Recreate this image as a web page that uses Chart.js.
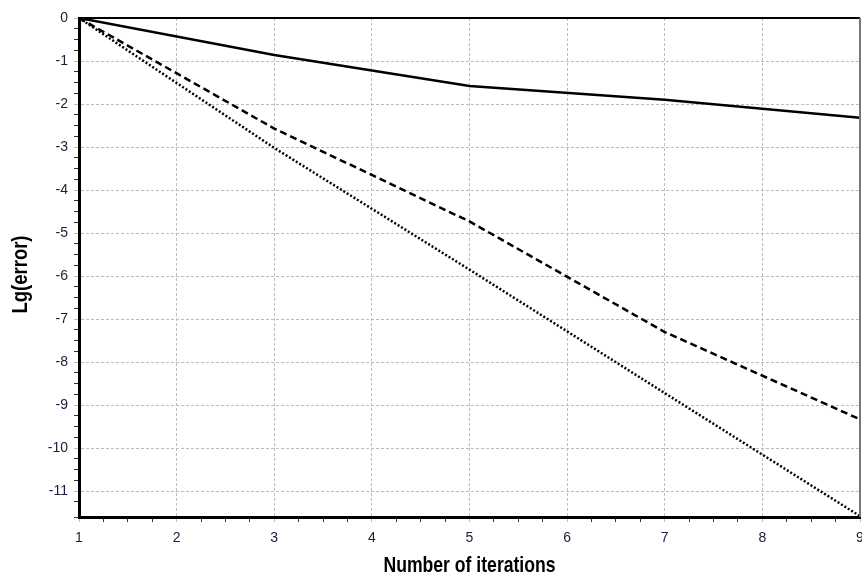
<!DOCTYPE html>
<html>
<head>
<meta charset="utf-8">
<script src="https://cdn.jsdelivr.net/npm/chart.js@4/dist/chart.umd.min.js"></script>
<style>
  html, body { margin: 0; padding: 0; background: #fff; }
  #wrap { width: 862px; height: 581px; }
</style>
</head>
<body>
<div id="wrap"><canvas id="chart"></canvas></div>
<script>
const iterations = [1, 3, 5, 7, 9];
const solidErr = [0, -0.86, -1.58, -1.9, -2.32];
const dashedErr = [0, -2.57, -4.73, -7.3, -9.33];
const dottedErr = [0, -3.02, -5.85, -8.72, -11.58];

const xTitle = 'Number of iterations';
const yTitle = 'Lg(error)';

const TITLE_FONT = 'bold 22px "Liberation Sans", Arial, sans-serif';
const TICK_FONT = {family: '"Liberation Sans", Arial, sans-serif', size: 14};

function isMajor(value) {
  return Math.abs(value - Math.round(value)) < 1e-6;
}

function points(ys) {
  return iterations.map((x, i) => ({x, y: ys[i]}));
}

// frame lines on top / right, and the condensed axis titles
const frame = {
  id: 'frame',
  afterDraw(chart) {
    const {ctx, chartArea: a} = chart;
    ctx.save();
    ctx.strokeStyle = '#000';
    ctx.lineWidth = 2;
    ctx.beginPath();
    ctx.moveTo(a.left, a.top);
    ctx.lineTo(a.right, a.top);
    ctx.stroke();
    ctx.strokeStyle = '#777';
    ctx.beginPath();
    ctx.moveTo(a.right, a.top);
    ctx.lineTo(a.right, a.bottom);
    ctx.stroke();

    ctx.fillStyle = '#000';
    ctx.font = TITLE_FONT;
    ctx.textAlign = 'center';
    ctx.textBaseline = 'middle';

    ctx.save();
    ctx.translate((a.left + a.right) / 2, chart.height - 15);
    ctx.scale(0.8, 1);
    ctx.fillText(xTitle, 0, 0);
    ctx.restore();

    ctx.save();
    ctx.translate(21, (a.top + a.bottom) / 2 + 7);
    ctx.rotate(-Math.PI / 2);
    ctx.scale(0.84, 1);
    ctx.fillText(yTitle, 0, 0);
    ctx.restore();

    ctx.restore();
  },
};

const gridOpts = {
  color: (c) => isMajor(c.tick.value) ? '#bdbdbd' : 'rgba(0,0,0,0)',
  tickColor: (c) => isMajor(c.tick.value) ? '#bdbdbd' : '#333',
  lineWidth: 1,
  tickLength: 5,
};

new Chart(document.getElementById('chart'), {
  type: 'line',
  data: {
    datasets: [
      {data: points(solidErr), borderColor: '#000', borderWidth: 2.5},
      {data: points(dashedErr), borderColor: '#000', borderWidth: 2.5, borderDash: [7, 4]},
      {data: points(dottedErr), borderColor: '#000', borderWidth: 2.5, borderDash: [2, 2]},
    ],
  },
  options: {
    responsive: true,
    maintainAspectRatio: false,
    animation: false,
    layout: {padding: {top: 18, right: 2, bottom: 0, left: 0}},
    elements: {point: {radius: 0}, line: {tension: 0}},
    plugins: {legend: {display: false}, tooltip: {enabled: false}},
    scales: {
      x: {
        type: 'linear',
        min: 1,
        max: 9,
        grid: gridOpts,
        border: {display: true, color: '#000', width: 3, dash: [3, 2]},
        ticks: {
          stepSize: 0.25,
          autoSkip: false,
          maxRotation: 0,
          padding: 8,
          color: '#1c1c3c',
          font: TICK_FONT,
          callback: (v) => isMajor(v) ? String(Math.round(v)) : '',
        },
        afterFit: (scale) => {
          scale.height = 64;
          scale.paddingLeft = 0;
          scale.paddingRight = 0;
        },
      },
      y: {
        type: 'linear',
        min: -11.6,
        max: 0,
        grid: gridOpts,
        border: {display: true, color: '#000', width: 3, dash: [3, 2]},
        ticks: {
          stepSize: 0.25,
          autoSkip: false,
          padding: 6,
          color: '#1c1c3c',
          font: TICK_FONT,
          callback: (v) => isMajor(v) ? String(Math.round(v)) : '',
        },
        afterFit: (scale) => { scale.width = 79; },
      },
    },
  },
  plugins: [frame],
});
</script>
</body>
</html>
